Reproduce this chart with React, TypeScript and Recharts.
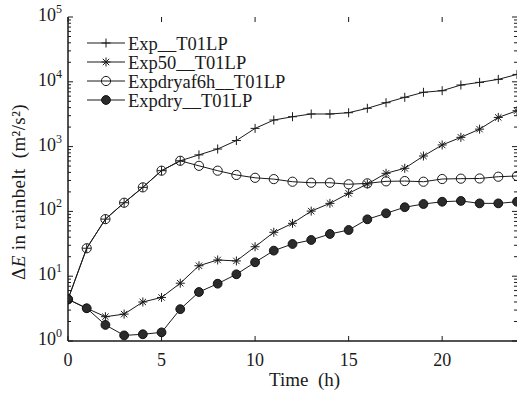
import React from 'react';
import { LineChart, Line, XAxis, YAxis, Legend, Label } from 'recharts';

// hours since start
const hours = [0, 1, 2, 3, 4, 5, 6, 7, 8, 9, 10, 11, 12, 13, 14, 15, 16, 17, 18, 19, 20, 21, 22, 23, 24];

// ΔE in rainbelt (m²/s²)
const exp = [4.4, 27, 76, 136, 235, 425, 604, 745, 918, 1240, 1910, 2570, 2890, 3185, 3185, 3335, 3900, 4760, 5760, 6890, 7290, 8920, 9800, 10900, 13000];
const exp50 = [4.4, 3.2, 2.37, 2.6, 4.0, 4.7, 7.8, 14.5, 17.8, 17.2, 28.5, 47.6, 65.5, 101, 133, 190, 265, 387, 463, 716, 1060, 1390, 1860, 2820, 3580];
const expdryaf6h = [4.4, 27, 76, 136, 235, 425, 604, 505, 425, 365, 330, 315, 287, 277, 277, 262, 271, 291, 294, 287, 316, 320, 322, 343, 352];
const expdry = [4.4, 3.2, 1.77, 1.22, 1.27, 1.36, 3.1, 5.7, 7.66, 10.7, 16.4, 24.8, 31.4, 36.2, 44.8, 51.6, 75.5, 93.4, 116, 130, 141, 145, 133, 133, 141];

const xTicks = [0, 5, 10, 15, 20];
const yMajor = [1, 10, 100, 1000, 10000, 100000];
const yMinor: number[] = [];
for (let k = 0; k < 5; k++) {
  for (let m = 2; m <= 9; m++) yMinor.push(m * Math.pow(10, k));
}

const data = hours.map((h, i) => ({
  h,
  exp: exp[i],
  exp50: exp50[i],
  expdryaf6h: expdryaf6h[i],
  expdry: expdry[i],
}));

const CHART_W = 519;
const CHART_H = 402;
const MARGIN = { top: 17, right: 2, bottom: 0, left: 0 };
const Y_WIDTH = 68;
const X_HEIGHT = 61;
const PLOT_LEFT = MARGIN.left + Y_WIDTH;
const PLOT_RIGHT = CHART_W - MARGIN.right;
const PLOT_TOP = MARGIN.top;
const PLOT_BOTTOM = CHART_H - MARGIN.bottom - X_HEIGHT;

const INK = '#1a1a1a';
const FONT = "'Liberation Serif', 'Times New Roman', serif";

type MarkerKind = 'plus' | 'star' | 'open' | 'filled';

const Marker = ({ kind, cx, cy }: { kind: MarkerKind; cx: number; cy: number }) => {
  if (kind === 'plus') {
    return (
      <g stroke={INK} strokeWidth={1}>
        <line x1={cx - 4.5} x2={cx + 4.5} y1={cy} y2={cy} />
        <line x1={cx} x2={cx} y1={cy - 4.5} y2={cy + 4.5} />
      </g>
    );
  }
  if (kind === 'star') {
    const d = 3.2;
    return (
      <g stroke={INK} strokeWidth={1}>
        <line x1={cx - 4.5} x2={cx + 4.5} y1={cy} y2={cy} />
        <line x1={cx} x2={cx} y1={cy - 4.5} y2={cy + 4.5} />
        <line x1={cx - d} x2={cx + d} y1={cy - d} y2={cy + d} />
        <line x1={cx - d} x2={cx + d} y1={cy + d} y2={cy - d} />
      </g>
    );
  }
  if (kind === 'open') {
    return <circle cx={cx} cy={cy} r={4.6} fill="none" stroke={INK} strokeWidth={1} />;
  }
  return <circle cx={cx} cy={cy} r={4.4} fill="#2b2b2b" stroke="#111" strokeWidth={1} />;
};

const makeDot = (kind: MarkerKind) => (p: any) => {
  if (p.cx == null || p.cy == null) return <g key={p.index} />;
  return (
    <g key={p.index}>
      <Marker kind={kind} cx={p.cx} cy={p.cy} />
    </g>
  );
};

const series: { key: string; name: string; marker: MarkerKind }[] = [
  { key: 'exp', name: 'Exp__T01LP', marker: 'plus' },
  { key: 'exp50', name: 'Exp50__T01LP', marker: 'star' },
  { key: 'expdryaf6h', name: 'Expdryaf6h__T01LP', marker: 'open' },
  { key: 'expdry', name: 'Expdry__T01LP', marker: 'filled' },
];

const YTick = (p: any) => {
  const { x, y, payload } = p;
  const lg = Math.log10(payload.value);
  const e = Math.round(lg);
  const major = Math.abs(lg - e) < 1e-9;
  const len = major ? 5 : 3;
  return (
    <g>
      <line x1={PLOT_LEFT} x2={PLOT_LEFT + len} y1={y} y2={y} stroke={INK} />
      <line x1={PLOT_RIGHT} x2={PLOT_RIGHT - len} y1={y} y2={y} stroke={INK} />
      {major && (
        <text x={x} y={y + 4} textAnchor="end" fontFamily={FONT} fontSize={18} fill={INK}>
          10
          <tspan dy={-8} fontSize={12}>{e}</tspan>
        </text>
      )}
    </g>
  );
};

const XTick = (p: any) => {
  const { x, payload } = p;
  return (
    <g>
      <line x1={x} x2={x} y1={PLOT_BOTTOM} y2={PLOT_BOTTOM - 5} stroke={INK} />
      <line x1={x} x2={x} y1={PLOT_TOP} y2={PLOT_TOP + 5} stroke={INK} />
      <text x={x} y={PLOT_BOTTOM + 25} textAnchor="middle" fontFamily={FONT} fontSize={18} fill={INK}>
        {payload.value}
      </text>
    </g>
  );
};

const XTitle = (p: any) => {
  const vb = p.viewBox || { x: PLOT_LEFT, y: PLOT_BOTTOM, width: PLOT_RIGHT - PLOT_LEFT };
  return (
    <text x={vb.x + vb.width / 2 + 12} y={vb.y + 45} textAnchor="middle" fontFamily={FONT} fontSize={19} fill={INK}>
      {'Time\u2002(h)'}
    </text>
  );
};

const YTitle = (p: any) => {
  const vb = p.viewBox || { x: 0, y: PLOT_TOP, height: PLOT_BOTTOM - PLOT_TOP };
  const cy = vb.y + vb.height / 2 + 13;
  return (
    <text
      transform={`translate(${vb.x + 25}, ${cy}) rotate(-90)`}
      textAnchor="middle"
      fontFamily={FONT}
      fontSize={19}
      letterSpacing={0.4}
      fill={INK}
    >
      Δ<tspan fontStyle="italic">E</tspan>{' in rainbelt\u2002(m²/s²)'}
    </text>
  );
};

const LegendBox = () => (
  <svg width={240} height={80} style={{ display: 'block' }}>
    {series.map((s, i) => {
      const cy = 11 + i * 19;
      return (
        <g key={s.key}>
          <line x1={3} x2={41} y1={cy} y2={cy} stroke={INK} strokeWidth={1} />
          <Marker kind={s.marker} cx={22} cy={cy} />
          <text x={44} y={cy + 6.5} fontFamily={FONT} fontSize={18.5} fill={INK}>
            {s.name}
          </text>
        </g>
      );
    })}
  </svg>
);

export default function App() {
  return (
    <div style={{ position: 'absolute', left: 0, top: 0, background: '#fff' }}>
      <LineChart width={CHART_W} height={CHART_H} data={data} margin={MARGIN}>
        <XAxis
          dataKey="h"
          type="number"
          domain={[0, 24]}
          ticks={xTicks}
          interval={0}
          allowDataOverflow
          height={X_HEIGHT}
          tickLine={false}
          tickSize={0}
          tick={<XTick />}
          axisLine={{ stroke: INK, strokeWidth: 1.5 }}
        >
          <Label content={<XTitle />} />
        </XAxis>
        <XAxis
          xAxisId="top"
          orientation="top"
          dataKey="h"
          type="number"
          domain={[0, 24]}
          height={0}
          tick={false}
          tickLine={false}
          axisLine={{ stroke: INK, strokeWidth: 1.5 }}
        />
        <YAxis
          type="number"
          scale="log"
          domain={[1, 100000]}
          allowDataOverflow
          ticks={[...yMajor, ...yMinor]}
          interval={0}
          width={Y_WIDTH}
          tickLine={false}
          tickSize={0}
          tickMargin={6}
          tick={<YTick />}
          axisLine={{ stroke: INK, strokeWidth: 1.5 }}
        >
          <Label content={<YTitle />} />
        </YAxis>
        <YAxis
          yAxisId="right"
          orientation="right"
          type="number"
          scale="log"
          domain={[1, 100000]}
          width={0}
          tick={false}
          tickLine={false}
          axisLine={{ stroke: INK, strokeWidth: 1.5 }}
        />
        <Legend
          layout="vertical"
          align="center"
          verticalAlign="middle"
          wrapperStyle={{ left: 84, top: 32, width: 240 }}
          content={<LegendBox />}
        />
        {series.map((s) => (
          <Line
            key={s.key}
            dataKey={s.key}
            name={s.name}
            type="linear"
            stroke={INK}
            strokeWidth={1}
            dot={makeDot(s.marker)}
            activeDot={false}
            isAnimationActive={false}
          />
        ))}
      </LineChart>
    </div>
  );
}
